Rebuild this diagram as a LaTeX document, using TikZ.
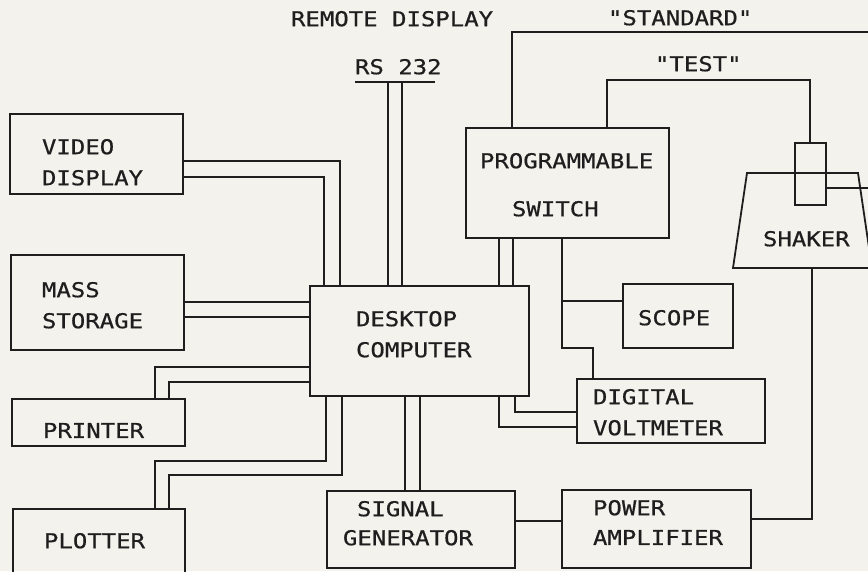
\documentclass[tikz,border=0pt]{standalone}
\usepackage{fontspec}
\setmainfont{DejaVu Sans Mono}[FakeStretch=1.17, FakeBold=0.6, Ligatures=TeXOff]
\definecolor{bg}{RGB}{244,242,236}
\definecolor{ink}{RGB}{30,30,30}
\tikzset{
  box/.style={draw=ink, line width=1.8pt, outer sep=0pt, inner sep=0pt, anchor=north west},
  wire/.style={draw=ink, line width=1.8pt, line join=miter},
  lbl/.style={text=ink, inner sep=0pt, outer sep=0pt, anchor=north west, font=\fontsize{20.5pt}{31pt}\selectfont}
}
\begin{document}
\begin{tikzpicture}[x=1pt,y=-1pt]
\useasboundingbox (0,0) rectangle (868,571);
\fill[bg] (0,0) rectangle (868,571);
\clip (0,0) rectangle (868,571);

% boxes
\node[box, minimum width=173pt, minimum height=80pt] (vd) at (10,114) {};
\node[box, minimum width=173pt, minimum height=95pt] (ms) at (11,255) {};
\node[box, minimum width=173pt, minimum height=47pt] (pr) at (12,399) {};
\node[box, minimum width=172pt, minimum height=70pt] (pl) at (13,509) {};
\node[box, minimum width=219pt, minimum height=110pt] (dc) at (310,286) {};
\node[box, minimum width=203pt, minimum height=110pt] (ps) at (466,128) {};
\node[box, minimum width=110pt, minimum height=64pt] (sc) at (623,284) {};
\node[box, minimum width=188pt, minimum height=64pt] (dv) at (577,379) {};
\node[box, minimum width=188pt, minimum height=77pt] (sg) at (327,491) {};
\node[box, minimum width=189pt, minimum height=78pt] (pa) at (562,490) {};

% shaker
\coordinate (shTL) at (747,173);
\coordinate (shTR) at (858,173);
\coordinate (shBR) at (872,268);
\coordinate (shBL) at (733,268);
\coordinate (shB) at (812,268);
\draw[wire] (shTL) -- (shTR) -- (shBR) -- (shBL) -- cycle;
\node[box, minimum width=31pt, minimum height=62pt] (sr) at (795,143) {};

% labels
\node[lbl] (tvd) at (42,139) {VIDEO};
\node[lbl] (tvd2) at (42,170) {DISPLAY};
\node[lbl] (tms) at (42,282) {MASS};
\node[lbl] (tms2) at (42,313) {STORAGE};
\node[lbl] (tpr) at (43,423) {PRINTER};
\node[lbl] (tpl) at (44,533) {PLOTTER};
\node[lbl] (tdc) at (356,311) {DESKTOP};
\node[lbl] (tdc2) at (356,342) {COMPUTER};
\node[lbl] (tps) at (480,153) {PROGRAMMABLE};
\node[lbl] (tps2) at (512,201) {SWITCH};
\node[lbl] (tsc) at (638,310) {SCOPE};
\node[lbl] (tdv) at (593,389) {DIGITAL};
\node[lbl] (tdv2) at (593,420) {VOLTMETER};
\node[lbl] (tsg) at (357,501) {SIGNAL};
\node[lbl] (tsg2) at (343,530) {GENERATOR};
\node[lbl] (tpa) at (593,500) {POWER};
\node[lbl] (tpa2) at (593,530) {AMPLIFIER};
\node[lbl] (tsh) at (763,231) {SHAKER};
\node[lbl] (tstd) at (608,10) {"STANDARD"};
\node[lbl] (ttest) at (655,56) {"TEST"};
\node[lbl] (trd) at (291,11) {REMOTE DISPLAY};
\node[lbl] (trs) at (355,59) {RS 232};

% RS 232 bus
\coordinate (rsL) at (355,82);
\coordinate (rsR) at (435,82);
\draw[wire] (rsL) -- (rsR);
\draw[wire] (dc.north -| 388,0) -- (388,82);
\draw[wire] (dc.north -| 402,0) -- (402,82);

% video display
\draw[wire] (vd.east |- 0,161) -| (dc.north -| 340,0);
\draw[wire] (vd.east |- 0,177) -| (dc.north -| 324,0);
% mass storage
\draw[wire] (ms.east |- 0,302) -- (dc.west |- 0,302);
\draw[wire] (ms.east |- 0,317) -- (dc.west |- 0,317);
% printer
\draw[wire] (pr.north -| 155,0) |- (dc.west |- 0,367);
\draw[wire] (pr.north -| 169,0) |- (dc.west |- 0,382);
% plotter
\draw[wire] (pl.north -| 155,0) |- (326,461) -- (dc.south -| 326,0);
\draw[wire] (pl.north -| 169,0) |- (342,475) -- (dc.south -| 342,0);
% switch to computer
\draw[wire] (ps.south -| 499,0) -- (dc.north -| 499,0);
\draw[wire] (ps.south -| 513,0) -- (dc.north -| 513,0);
% computer to DVM
\draw[wire] (dc.south -| 515,0) |- (dv.west |- 0,412);
\draw[wire] (dc.south -| 499,0) |- (dv.west |- 0,427);
% computer to signal generator
\draw[wire] (dc.south -| 405,0) -- (sg.north -| 405,0);
\draw[wire] (dc.south -| 420,0) -- (sg.north -| 420,0);
% signal generator to power amplifier
\draw[wire] (sg.east |- 0,521) -- (pa.west |- 0,521);
% switch to scope and DVM
\coordinate (j1) at (562,301);
\draw[wire] (ps.south -| 562,0) |- (593,348) -- (dv.north -| 593,0);
\draw[wire] (j1) -- (sc.west |- j1);
% standard and test
\draw[wire] (ps.north -| 512,0) |- (875,32) -- (875,188) -- (sr.east |- 0,188);
\draw[wire] (ps.north -| 607,0) |- (810,80) -- (sr.north -| 810,0);
% shaker to power amplifier
\draw[wire] (shB) |- (pa.east |- 0,519);
\end{tikzpicture}
\end{document}
